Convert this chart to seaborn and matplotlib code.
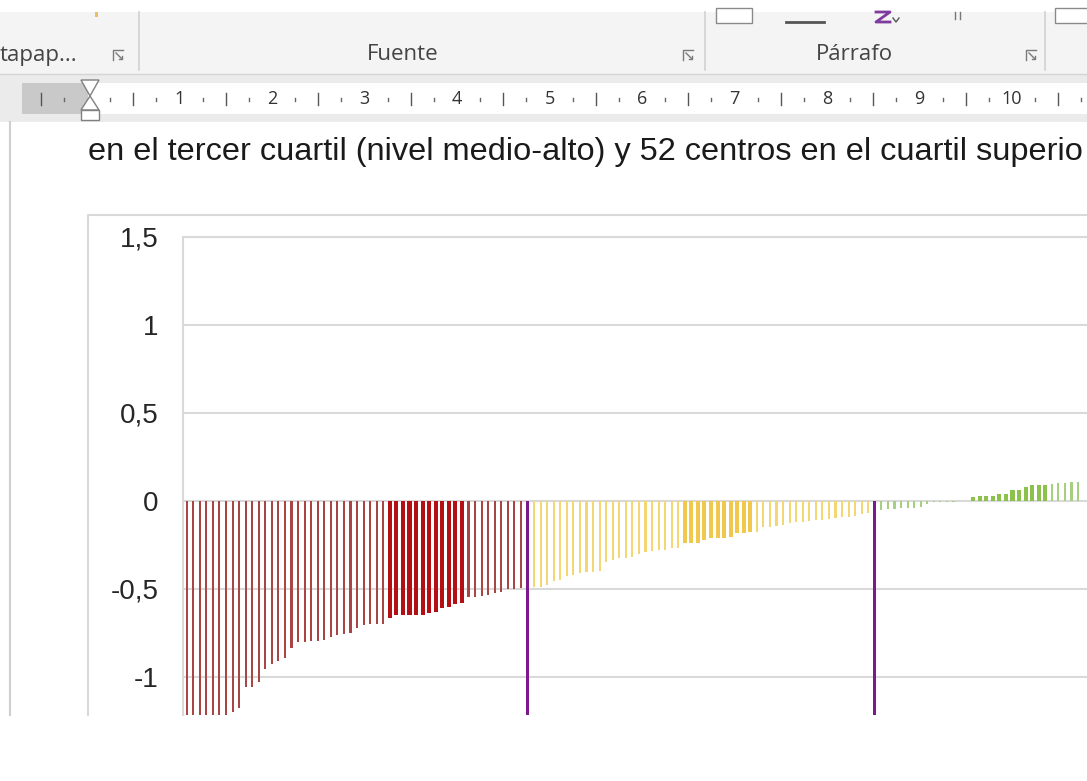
import matplotlib
matplotlib.use("Agg")
import matplotlib.pyplot as plt
from matplotlib.patches import Rectangle, Polygon
import pandas as pd
import seaborn as sns

# ---- data -----------------------------------------------------------------
red_values = [
    -1.60, -1.52, -1.45, -1.40, -1.35, -1.30, -1.25, -1.197, -1.176, -1.055,
    -1.055, -1.027, -0.955, -0.927, -0.91, -0.89, -0.833, -0.80, -0.80, -0.796,
    -0.796, -0.79, -0.77, -0.76, -0.757, -0.748, -0.72, -0.705, -0.70, -0.70,
    -0.70, -0.667, -0.648, -0.648, -0.648, -0.648, -0.648, -0.638, -0.629, -0.61,
    -0.60, -0.587, -0.58, -0.544, -0.544, -0.54, -0.534, -0.525, -0.515, -0.50,
    -0.50, -0.496,
]
yellow_values = [
    -0.487, -0.487, -0.477, -0.455, -0.45, -0.426, -0.42, -0.41, -0.405, -0.405,
    -0.40, -0.345, -0.335, -0.326, -0.322, -0.316, -0.303, -0.288, -0.285, -0.278,
    -0.278, -0.269, -0.265, -0.24, -0.24, -0.238, -0.222, -0.212, -0.212, -0.21,
    -0.203, -0.184, -0.184, -0.178, -0.175, -0.146, -0.146, -0.14, -0.135, -0.127,
    -0.122, -0.117, -0.113, -0.108, -0.108, -0.102, -0.098, -0.093, -0.089, -0.085,
    -0.074, -0.07,
]
green_values = [
    -0.05, -0.048, -0.045, -0.042, -0.04, -0.038, -0.035, -0.018, -0.008, -0.005,
    -0.004, -0.003, -0.002, -0.001, 0.02, 0.03, 0.03, 0.03, 0.04, 0.04,
    0.062, 0.065, 0.08, 0.092, 0.092, 0.092, 0.095, 0.10, 0.10, 0.11,
    0.11,
]
red_highlight = list(range(31, 43))
yellow_highlight = list(range(23, 34))
green_highlight = list(range(14, 26))
separator_depth = -1.5
group_size = 52

y_ticks = [1.5, 1, 0.5, 0, -0.5, -1]
y_tick_labels = ["1,5", "1", "0,5", "0", "-0,5", "-1"]
ruler_numbers = list(range(1, 11))
ribbon_groups = ["tapap...", "Fuente", "Párrafo"]
body_line = "en el tercer cuartil (nivel medio-alto) y 52 centros en el cuartil superio"

palette = {
    "red": "#A84646", "red_hl": "#B40F14",
    "yellow": "#F3D774", "yellow_hl": "#F0C84E",
    "green": "#A6CF82", "green_hl": "#8CC24C",
    "sep": "#7A1A8C",
}

# ---- table of bars ----------------------------------------------------------
rows = []
slot = 0
groups = [("red", red_values, red_highlight),
          ("yellow", yellow_values, yellow_highlight),
          ("green", green_values, green_highlight)]
for g, (name, vals, hl) in enumerate(groups):
    for i, v in enumerate(vals):
        rows.append({"slot": slot + i, "value": v,
                     "kind": name + "_hl" if i in hl else name})
    slot += group_size
    if g < 2:
        rows.append({"slot": slot, "value": separator_depth, "kind": "sep"})
        slot += 1
n_slots = 3 * group_size + 2
df = pd.DataFrame(rows)
df["pos"] = df["slot"].astype(str)
order = [str(i) for i in range(n_slots)]

W, H = 1087, 781
fig = plt.figure(figsize=(W / 100, H / 100), dpi=100)
fig.patch.set_facecolor("white")

# ---- window chrome (pixel coordinates) -------------------------------------
bg = fig.add_axes([0, 0, 1, 1], zorder=0)
bg.set_xlim(0, W)
bg.set_ylim(H, 0)
bg.axis("off")

ui_font = ["Open Sans", "DejaVu Sans"]
bg.add_patch(Rectangle((0, 12), W, 62, color="#F4F4F4", lw=0))
bg.add_patch(Rectangle((0, 74), W, 48, color="#EBEBEB", lw=0))
bg.plot([0, W], [74, 74], color="#D4D4D4", lw=1)
for sx in (139, 705, 1045):
    bg.plot([sx, sx], [12, 70], color="#D2D2D2", lw=1.2)

# group captions
bg.text(0, 55, ribbon_groups[0], fontsize=16, family=ui_font, color="#444444",
        ha="left", va="center")
bg.text(403, 55, ribbon_groups[1], fontsize=16, family=ui_font, color="#444444",
        ha="center", va="center")
bg.text(854, 55, ribbon_groups[2], fontsize=16, family=ui_font, color="#444444",
        ha="center", va="center")

# dialog launchers
for lx in (118, 688, 1031):
    bg.plot([lx - 5, lx - 5, lx + 5], [60, 50, 50], color="#7A7A7A", lw=1)
    bg.plot([lx - 2, lx + 4], [53, 59], color="#7A7A7A", lw=1)
    bg.plot([lx + 1, lx + 4, lx + 4], [59, 59, 56], color="#7A7A7A", lw=1)

# partially visible ribbon icons
bg.add_patch(Rectangle((95, 12), 3, 5, color="#E8C060", lw=0))
bg.add_patch(Rectangle((716, 8), 36, 15, facecolor="white", edgecolor="#8A8A8A", lw=1))
bg.plot([786, 824], [22, 22], color="#555555", lw=2)
bg.plot([876, 890, 876, 890], [12, 12, 22, 22], color="#7E3C9E", lw=2)
bg.plot([893, 896, 899], [18, 22, 18], color="#555555", lw=1)
bg.plot([955, 955], [12, 19], color="#777777", lw=1)
bg.plot([960, 960], [12, 19], color="#777777", lw=1)
bg.add_patch(Rectangle((1055, 8), 40, 15, facecolor="white", edgecolor="#8A8A8A", lw=1))

# ruler
bg.add_patch(Rectangle((88, 83), W - 88, 31, color="white", lw=0))
bg.add_patch(Rectangle((22, 83), 66, 31, color="#C9C9C9", lw=0))
x0, unit = 87.0, 92.5
for k in range(-1, 11):
    for frac, kind in ((0.25, "dot"), (0.5, "bar"), (0.75, "dot")):
        tx = x0 + (k + frac) * unit
        if tx < 25 or tx > W:
            continue
        if kind == "bar":
            bg.plot([tx, tx], [93, 105], color="#555555", lw=1)
        else:
            bg.plot([tx, tx], [98, 101], color="#666666", lw=1)
for n in ruler_numbers:
    bg.text(x0 + n * unit, 99, str(n), fontsize=13, family=ui_font, color="#333333",
            ha="center", va="center")
bg.add_patch(Polygon([(81, 80), (99, 80), (90, 96)], closed=True,
                     facecolor="white", edgecolor="#808080", lw=1))
bg.add_patch(Polygon([(90, 96), (81, 110), (99, 110)], closed=True,
                     facecolor="white", edgecolor="#808080", lw=1))
bg.add_patch(Rectangle((81, 110), 18, 10, facecolor="white", edgecolor="#808080", lw=1))

# page
bg.add_patch(Rectangle((0, 122), W, 593, color="white", lw=0))
bg.plot([10, 10], [122, 715], color="#CFCFCF", lw=1.5)
bg.text(88, 160, body_line, fontsize=23.4, family=["Liberation Sans", "DejaVu Sans"],
        color="#1A1A1A", ha="left", va="baseline")

# chart area frame
bg.plot([88, 88, W], [715, 215, 215], color="#D9D9D9", lw=1.5)

# ---- chart ------------------------------------------------------------------
slot_px = 6.554
left_px, top_px, bottom_px = 183.4, 237.0, 715.0
ax = fig.add_axes([left_px / W, (H - bottom_px) / H,
                   n_slots * slot_px / W, (bottom_px - top_px) / H], zorder=1)
ax.set_facecolor("none")

styles = [
    (["red", "yellow", "green"], 0.32),
    (["red_hl", "yellow_hl", "green_hl"], 0.62),
    (["sep"], 0.42),
]
for kinds, width in styles:
    sub = df[df["kind"].isin(kinds)]
    sns.barplot(data=sub, x="pos", y="value", hue="kind", order=order,
                hue_order=[k for k in kinds if k in set(sub["kind"])],
                palette=palette, dodge=False, width=width, errorbar=None,
                saturation=1, legend=False, ax=ax, zorder=2, linewidth=0)

ax.set_xlim(-0.5, n_slots - 0.5)
ax.set_ylim(-1.216, 1.5)
ax.set_xticks([])
ax.set_xlabel("")
ax.set_ylabel("")
ax.set_yticks(y_ticks)
ax.set_yticklabels(y_tick_labels, fontsize=20,
                   family=["Liberation Sans", "DejaVu Sans"], color="#262626")
ax.tick_params(axis="y", length=0, pad=18)
ax.set_axisbelow(True)
ax.yaxis.grid(True, color="#D9D9D9", lw=1.5, zorder=0)
ax.xaxis.grid(False)
for side in ("right", "bottom"):
    ax.spines[side].set_visible(False)
for side in ("left", "top"):
    ax.spines[side].set_color("#D9D9D9")
    ax.spines[side].set_linewidth(1.5)

fig.savefig("out.png", dpi=100, facecolor="white")
